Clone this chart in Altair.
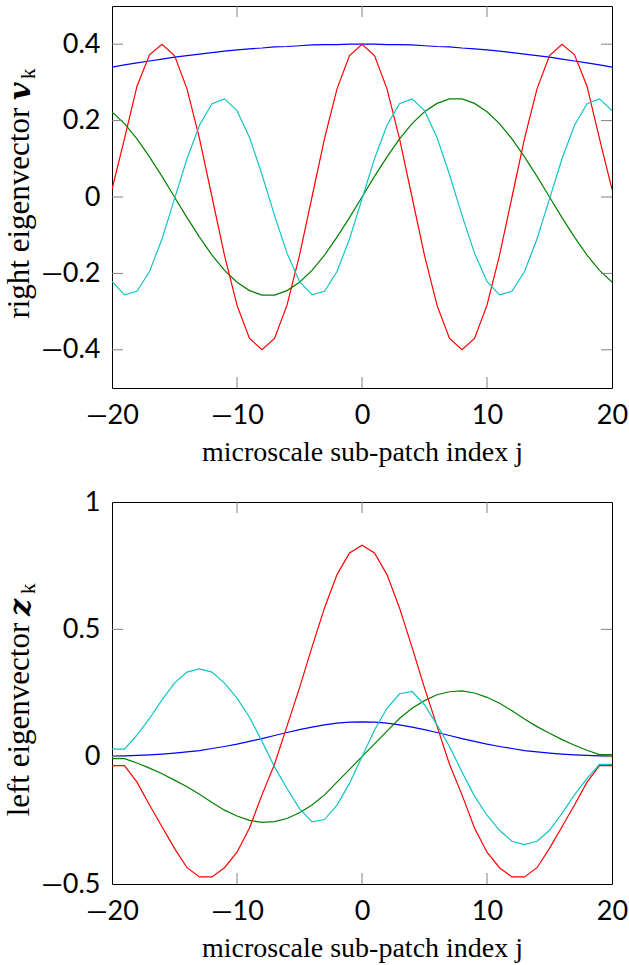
import altair as alt
import pandas as pd

j = list(range(-20, 21))

# ---- top panel: right eigenvectors v_k ----
top_blue = [0.340, 0.346, 0.351, 0.356, 0.361, 0.366, 0.370, 0.374, 0.378, 0.382,
            0.385, 0.388, 0.390, 0.393, 0.394, 0.396, 0.398, 0.399, 0.399, 0.400,
            0.400,
            0.400, 0.399, 0.399, 0.398, 0.396, 0.394, 0.393, 0.390, 0.388, 0.385,
            0.382, 0.378, 0.374, 0.370, 0.366, 0.361, 0.356, 0.351, 0.346, 0.340]
top_green = [0.223, 0.192, 0.152, 0.105, 0.054, 0.000, -0.054, -0.105, -0.152, -0.192,
             -0.223, -0.245, -0.257, -0.257, -0.245, -0.223, -0.192, -0.152, -0.105, -0.054,
             0.000,
             0.054, 0.105, 0.152, 0.192, 0.223, 0.245, 0.257, 0.257, 0.245, 0.223,
             0.192, 0.152, 0.105, 0.054, 0.000, -0.054, -0.105, -0.152, -0.192, -0.223]
top_red = [0.020, 0.153, 0.290, 0.372, 0.400, 0.370, 0.283, 0.153, 0.000, -0.153,
           -0.283, -0.370, -0.400, -0.370, -0.283, -0.153, 0.000, 0.153, 0.283, 0.370,
           0.400,
           0.370, 0.283, 0.153, 0.000, -0.153, -0.283, -0.370, -0.400, -0.370, -0.283,
           -0.153, 0.000, 0.153, 0.283, 0.370, 0.400, 0.372, 0.290, 0.153, 0.020]
top_cyan = [-0.221, -0.256, -0.247, -0.195, -0.110, -0.005, 0.100, 0.188, 0.244, 0.257,
            0.226, 0.156, 0.059, -0.048, -0.147, -0.221, -0.256, -0.247, -0.195, -0.110,
            -0.005,
            0.100, 0.188, 0.244, 0.257, 0.226, 0.156, 0.059, -0.048, -0.147, -0.221,
            -0.256, -0.247, -0.195, -0.110, -0.005, 0.100, 0.188, 0.244, 0.257, 0.226]

# ---- bottom panel: left eigenvectors z_k ----
bot_blue = [0.002, 0.003, 0.005, 0.007, 0.010, 0.014, 0.019, 0.024, 0.032, 0.040,
            0.049, 0.060, 0.071, 0.083, 0.095, 0.106, 0.116, 0.125, 0.132, 0.136,
            0.137,
            0.136, 0.132, 0.125, 0.116, 0.106, 0.095, 0.083, 0.071, 0.060, 0.049,
            0.040, 0.032, 0.024, 0.019, 0.014, 0.010, 0.007, 0.005, 0.003, 0.002]
bot_green = [-0.008, -0.008, -0.025, -0.045, -0.067, -0.092, -0.118, -0.148, -0.180, -0.210,
             -0.233, -0.250, -0.258, -0.255, -0.243, -0.220, -0.190, -0.150, -0.100, -0.050,
             0.000,
             0.050, 0.100, 0.150, 0.190, 0.220, 0.243, 0.255, 0.258, 0.250, 0.233,
             0.210, 0.180, 0.148, 0.118, 0.092, 0.067, 0.045, 0.025, 0.008, 0.008]
bot_red = [-0.035, -0.035, -0.100, -0.190, -0.275, -0.360, -0.436, -0.472, -0.472, -0.436,
           -0.375, -0.280, -0.150, -0.030, 0.120, 0.270, 0.430, 0.584, 0.715, 0.800,
           0.830,
           0.800, 0.715, 0.584, 0.430, 0.270, 0.120, -0.030, -0.150, -0.280, -0.375,
           -0.436, -0.472, -0.472, -0.436, -0.360, -0.275, -0.190, -0.100, -0.035, -0.035]
bot_cyan = [0.030, 0.030, 0.085, 0.150, 0.223, 0.289, 0.332, 0.345, 0.332, 0.289,
            0.230, 0.155, 0.060, -0.040, -0.125, -0.204, -0.256, -0.247, -0.190, -0.105,
            0.000,
            0.105, 0.190, 0.247, 0.256, 0.204, 0.125, 0.040, -0.060, -0.155, -0.230,
            -0.289, -0.332, -0.345, -0.332, -0.289, -0.223, -0.150, -0.085, -0.030, -0.030]

series_names = ["k1", "k2", "k3", "k4"]
series_colors = ["#0000ff", "#008000", "#ff0000", "#10c4c4"]

x_tick_values = [-20, -10, 0, 10, 20]
x_inner_ticks = [-10, 0, 10]
top_y_ticks = [-0.4, -0.2, 0, 0.2, 0.4]
bot_y_ticks = [-0.5, 0, 0.5, 1]
bot_y_inner = [0, 0.5]

W, H = 500, 382
TICK = "#808080"
LABEL_EXPR = "replace(format(datum.value, '~r'), '\u2212', '\u2014')"


def long_df(cols):
    rows = []
    for name, vals in zip(series_names, cols):
        for jj, v in zip(j, vals):
            rows.append({"j": jj, "v": v, "s": name})
    return pd.DataFrame(rows)


def panel(cols, ydom, yticks, yinner, words, sym, words_end, sym_at, sub_at):
    xs = alt.Scale(domain=[-20, 20], nice=False, zero=False)
    ys = alt.Scale(domain=ydom, nice=False, zero=False)
    xaxis = alt.Axis(values=x_tick_values, labelExpr=LABEL_EXPR, ticks=False, tickSize=0,
                     domain=False, grid=False, labelFont="Lato", labelFontSize=27,
                     labelColor="black", labelPadding=14, labelFlush=False,
                     title="microscale sub-patch index j", titleFont="Liberation Serif",
                     titleFontSize=28, titleFontWeight="normal", titleColor="black",
                     titlePadding=10)
    yaxis = alt.Axis(values=yticks, labelExpr=LABEL_EXPR, ticks=False, tickSize=0,
                     domain=False, grid=False, labelFont="Lato", labelFontSize=27,
                     labelColor="black", labelPadding=12, labelFlush=False, title=None)
    X = alt.X("j:Q", scale=xs, axis=xaxis)
    Y = alt.Y("v:Q", scale=ys, axis=yaxis)

    lines = alt.Chart(long_df(cols)).mark_line(strokeWidth=1.2, clip=True).encode(
        x=X, y=Y,
        color=alt.Color("s:N", scale=alt.Scale(domain=series_names, range=series_colors),
                        legend=None),
    )
    xt = pd.DataFrame({"j": x_inner_ticks})
    yt = pd.DataFrame({"v": yinner})
    t_top = alt.Chart(xt).mark_rule(color=TICK, strokeWidth=1).encode(
        x=X, y=alt.value(0), y2=alt.value(11))
    t_bot = alt.Chart(xt).mark_rule(color=TICK, strokeWidth=1).encode(
        x=X, y=alt.value(H - 11), y2=alt.value(H))
    t_left = alt.Chart(yt).mark_rule(color=TICK, strokeWidth=1).encode(
        y=Y, x=alt.value(0), x2=alt.value(11))
    t_right = alt.Chart(yt).mark_rule(color=TICK, strokeWidth=1).encode(
        y=Y, x=alt.value(W - 11), x2=alt.value(W))

    one = pd.DataFrame({"a": [0]})
    bx = -83
    t1 = alt.Chart(one).mark_text(text=words, angle=270, align="right",
                                  baseline="alphabetic", font="Liberation Serif",
                                  fontSize=31, color="black").encode(
        x=alt.value(bx), y=alt.value(words_end))
    t2 = alt.Chart(one).mark_text(text=sym, angle=270, align="left",
                                  baseline="alphabetic", font="DejaVu Serif",
                                  fontStyle="italic", fontWeight="bold",
                                  fontSize=30, color="black").encode(
        x=alt.value(bx + 1), y=alt.value(sym_at))
    t3 = alt.Chart(one).mark_text(text="k", angle=270, align="left",
                                  baseline="alphabetic", font="Liberation Serif",
                                  fontSize=21, color="black").encode(
        x=alt.value(bx + 6), y=alt.value(sub_at))

    return alt.layer(lines, t_top, t_bot, t_left, t_right, t1, t2, t3).properties(
        width=W, height=H)


top = panel([top_blue, top_green, top_red, top_cyan], [-0.5, 0.5], top_y_ticks,
            top_y_ticks, "right eigenvector", "v", 101.7, 94, 73)
bottom = panel([bot_blue, bot_green, bot_red, bot_cyan], [-0.5, 1], bot_y_ticks,
               bot_y_inner, "left eigenvector", "z", 120.7, 114, 92)

chart = alt.vconcat(top, bottom, spacing=20).properties(
    padding={"left": 3, "top": 5, "right": 0, "bottom": 0}
).configure_view(stroke="black", strokeWidth=1)

chart.save("out.html", embed_options={"renderer": "svg", "actions": False})
